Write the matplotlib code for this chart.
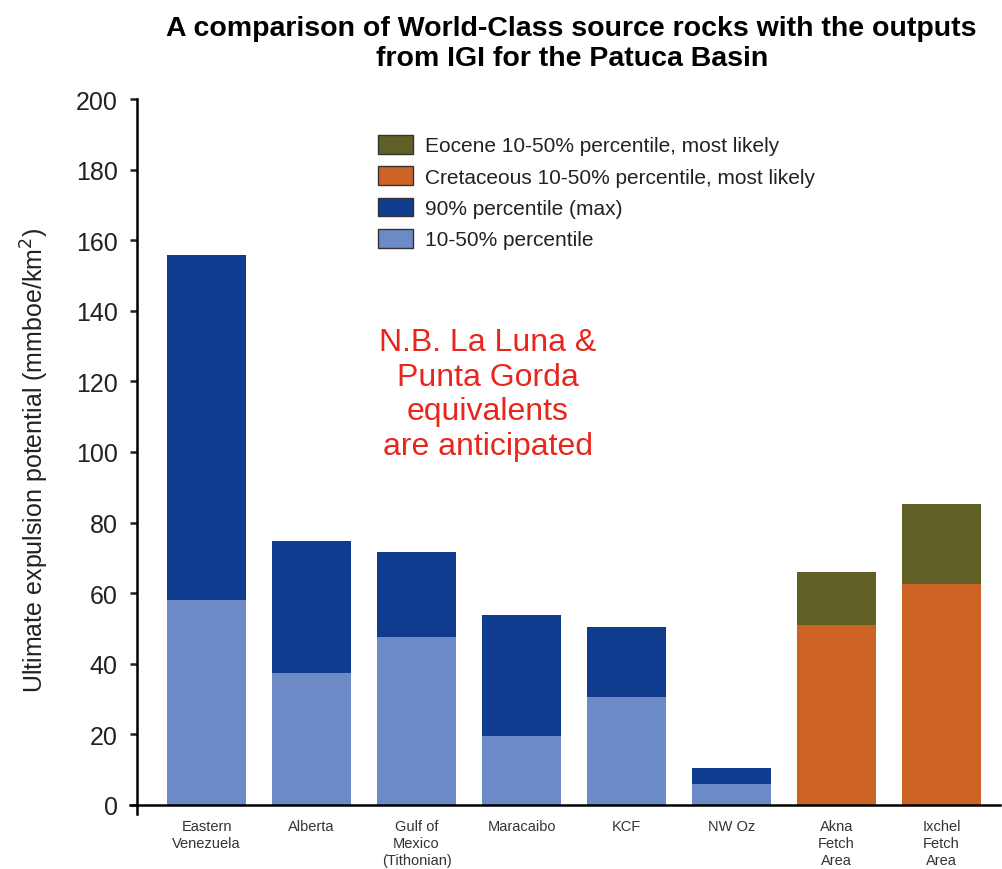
import matplotlib
matplotlib.use("Agg")
import matplotlib.pyplot as plt
from matplotlib.patches import Patch
import numpy as np

plt.rcParams['font.family'] = ['Liberation Sans', 'DejaVu Sans']

categories = ["Eastern\nVenezuela", "Alberta", "Gulf of\nMexico\n(Tithonian)", "Maracaibo",
              "KCF", "NW Oz", "Akna\nFetch\nArea", "Ixchel\nFetch\nArea"]
# world-class source rocks (first six)
p10_50 = [58.2, 37.4, 47.7, 19.5, 30.7, 5.9, 0, 0]
p90_max = [155.8, 74.9, 71.6, 53.9, 50.3, 10.5, 0, 0]
# Patuca basin (IGI outputs)
cretaceous = [0, 0, 0, 0, 0, 0, 51.1, 62.5]
eocene_total = [0, 0, 0, 0, 0, 0, 66.1, 85.2]

legend_labels = ["Eocene 10-50% percentile, most likely",
                 "Cretaceous 10-50% percentile, most likely",
                 "90% percentile (max)",
                 "10-50% percentile"]

c_dark = "#0f3c8f"
c_light = "#6b8ac6"
c_orange = "#cc6224"
c_olive = "#5f5f26"

fig = plt.figure(figsize=(10.03, 8.70), dpi=100)
ax = fig.add_axes([137/1003, 1-806/870, 863/1003, 706/870])

x = np.arange(len(categories))
w = 0.75
p10 = np.array(p10_50); p90 = np.array(p90_max)
cr = np.array(cretaceous); eo = np.array(eocene_total)
ax.bar(x, p10, w, color=c_light, zorder=2)
ax.bar(x, p90 - p10, w, bottom=p10, color=c_dark, zorder=2)
ax.bar(x, cr, w, color=c_orange, zorder=2)
ax.bar(x, eo - cr, w, bottom=cr, color=c_olive, zorder=2)

ax.set_xlim(-0.662, 7.557)
ax.set_ylim(0, 200)
ax.set_yticks(np.arange(0, 201, 20))
ax.tick_params(axis='y', labelsize=18, direction='out', length=5, width=1.8, pad=9, colors='#222222')
ax.tick_params(axis='x', length=0, pad=10)
ax.set_xticks(x)
ax.set_xticklabels(categories, fontsize=10.5, color='#333333', linespacing=1.3, va='top')
for s in ['top', 'right']:
    ax.spines[s].set_visible(False)
ax.spines['left'].set_linewidth(1.8)
ax.spines['bottom'].set_linewidth(1.8)
# small extensions of axes lines past origin
ax.plot([-0.662, -0.662], [0, -2.5], color='black', lw=1.8, clip_on=False)
ax.plot([-0.73, -0.662], [0, 0], color='black', lw=1.8, clip_on=False)

ax.set_ylabel("Ultimate expulsion potential (mmboe/km$^2$)", fontsize=18, color='#222222')
ax.yaxis.set_label_coords(-0.100, 0.49)

fig.text(0.57, 0.949, "A comparison of World-Class source rocks with the outputs\nfrom IGI for the Patuca Basin",
         ha='center', va='center', fontsize=20.5, fontweight='bold', linespacing=1.2)

ax.text(2.68, 116.4, "N.B. La Luna &\nPunta Gorda\nequivalents\nare anticipated",
        ha='center', va='center', fontsize=23, color='#e8261c', linespacing=1.2)

handles = [Patch(facecolor=c, edgecolor='#333333', linewidth=1.0) for c in [c_olive, c_orange, c_dark, c_light]]
leg = ax.legend(handles, legend_labels, loc='upper left', bbox_to_anchor=(378/1003, 1-136/870),
                bbox_transform=fig.transFigure, frameon=False, fontsize=15,
                handlelength=1.68, handleheight=1.0, handletextpad=0.58, labelspacing=0.52,
                borderpad=0, borderaxespad=0)
for t in leg.get_texts():
    t.set_color('#222222')

fig.savefig("out.png", dpi=100)
